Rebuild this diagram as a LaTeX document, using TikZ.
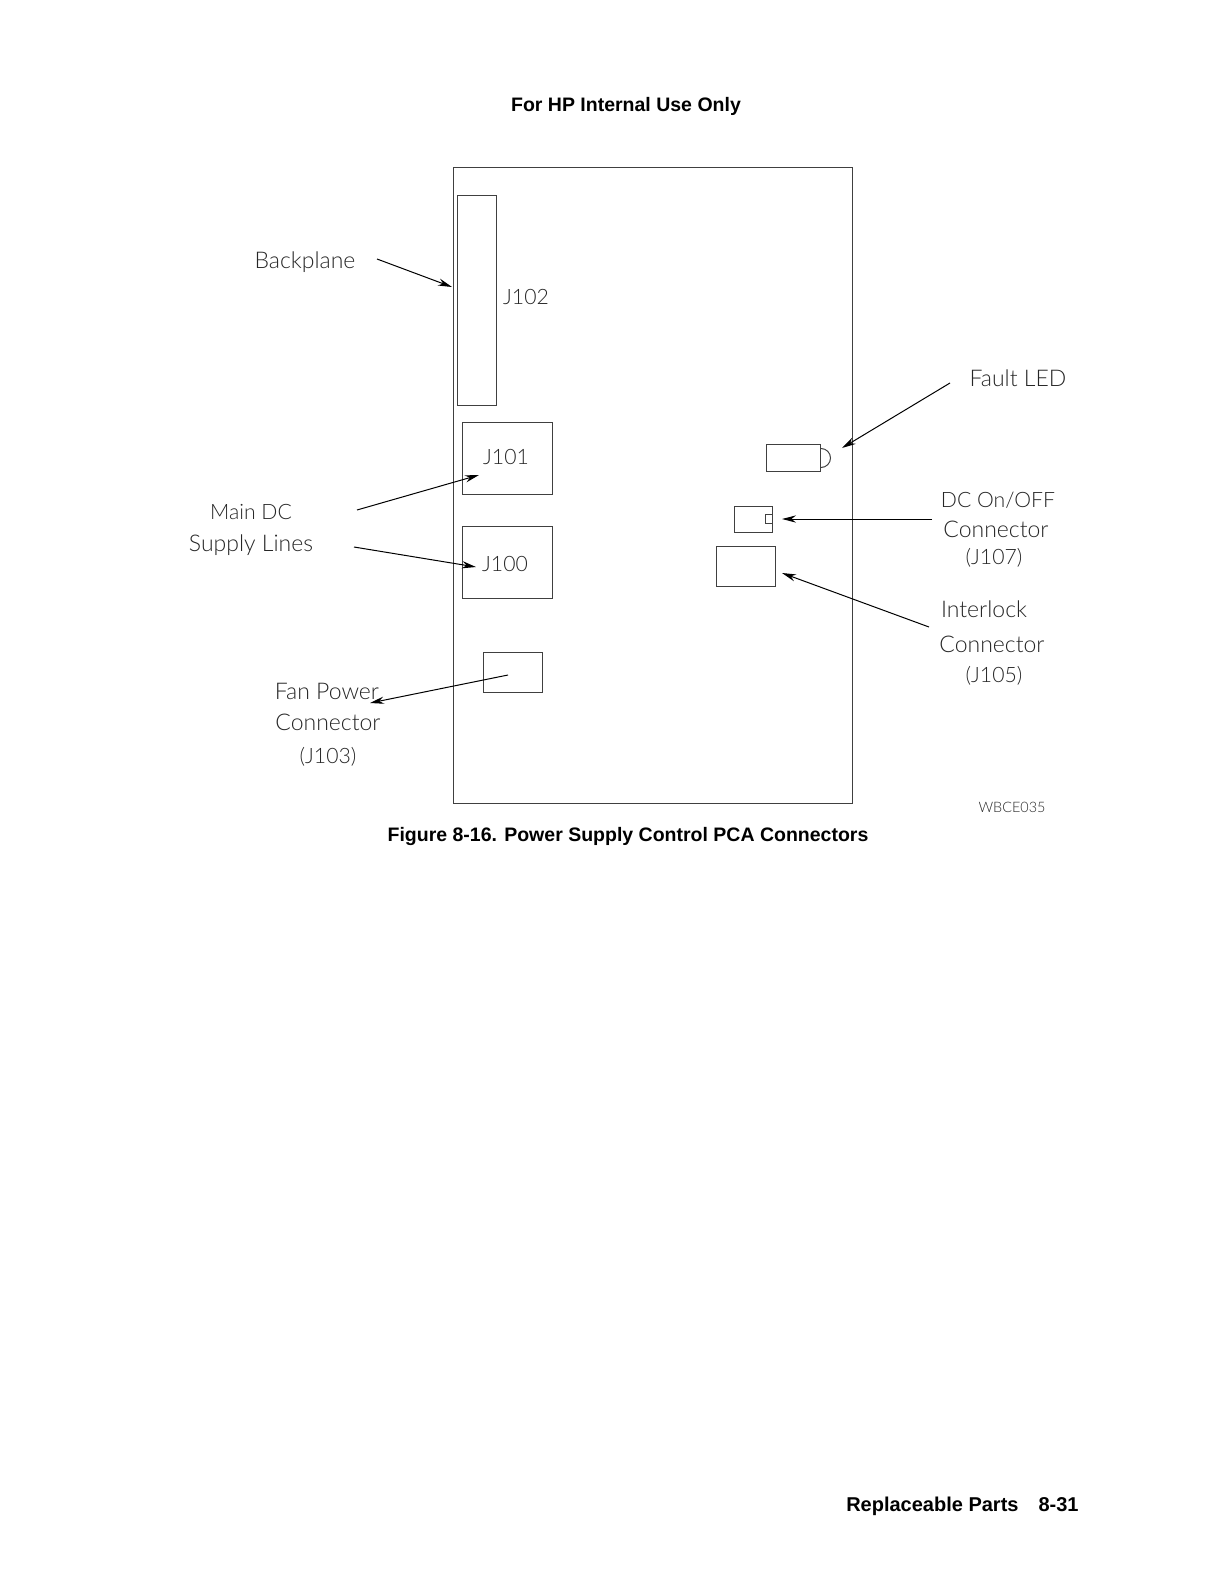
\documentclass[tikz,border=0pt]{standalone}
\usepackage{fontspec}
\usetikzlibrary{arrows.meta}
\setmainfont{Liberation Sans}
\newfontfamily\plotfont{Lato Light}
\definecolor{inkline}{gray}{0.25}
\tikzset{
  board/.style={shape=rectangle,draw=inkline,line width=0.5bp,inner sep=0pt},
  plot/.style={font=\plotfont\fontsize{11.5bp}{13bp}\selectfont,text=black!85,inner sep=0pt},
  plotsmall/.style={plot,font=\plotfont\fontsize{10.6bp}{13bp}\selectfont},
  bold/.style={font=\bfseries\fontsize{9.75bp}{12bp}\selectfont,inner sep=0pt},
  lead/.style={draw=black,line width=0.5bp,-{Stealth[length=7bp,width=3.6bp]}},
}
\begin{document}
\begin{tikzpicture}[x=0.5bp,y=-0.5bp]
\useasboundingbox (0,0) rectangle (1224,1584);

\node [bold] (hdr) at (626,106) {For HP Internal Use Only};
\node [bold] (cap) at (628,836.5) {Figure 8-16. Power Supply Control PCA Connectors};
\node [bold,anchor=east,font=\bfseries\fontsize{10bp}{12bp}\selectfont] (foot) at (1079,1506) {Replaceable Parts\hspace{1em}8-31};
\node [plot,font=\plotfont\fontsize{7.2bp}{10bp}\selectfont] (wbce) at (1012,807.5) {WBCE035};

\node [board,minimum width=199bp,minimum height=317.5bp]   (pca)  at (653,485.5) {};
\node [board,minimum width=19.5bp,minimum height=105bp]    (j102) at (476.5,300) {};
\node [board,minimum width=45bp,minimum height=36bp]       (j101) at (507,458) {};
\node [board,minimum width=45bp,minimum height=36bp]       (j100) at (507,562) {};
\node [board,minimum width=29.5bp,minimum height=20bp]     (j103) at (512.5,672) {};
\node [board,minimum width=27bp,minimum height=13.5bp]     (led)  at (793.5,458) {};
\node [board,minimum width=19bp,minimum height=13bp]       (j107) at (753,519) {};
\node [board,minimum width=3.5bp,minimum height=4.5bp,anchor=east] (pin) at (j107.east) {};
\node [board,minimum width=29.5bp,minimum height=20bp]     (j105) at (745.5,566) {};
\draw [draw=inkline,line width=0.5bp] ([yshift=4.75bp]led.east) arc [start angle=90,end angle=-90,radius=4.75bp];

\node [plotsmall] (t102) at (526,297) {J102};
\node [plotsmall] (t101) at (506,457) {J101};
\node [plotsmall] (t100) at (505,564) {J100};
\node [plot] (back) at (305,262) {Backplane};
\node [plotsmall] (main) at (251,512) {Main DC};
\node [plot] (supp) at (251,545) {Supply Lines};
\node [plot] (fan)  at (327,691) {Fan Power};
\node [plot] (fanc) at (328,722) {Connector};
\node [plotsmall] (fanj) at (328,757) {(J103)};
\node [plot] (flt)  at (1018,378) {Fault LED};
\node [plotsmall] (dc)   at (998,500) {DC On/OFF};
\node [plot] (dcc)  at (996,529) {Connector};
\node [plotsmall] (dcj)  at (994,558) {(J107)};
\node [plot] (intl) at (984,609) {Interlock};
\node [plot] (intc) at (992,644) {Connector};
\node [plotsmall] (intj) at (994,676) {(J105)};

\coordinate (a1) at (377,259);  \coordinate (b1) at (452,287);
\coordinate (a2) at (357,510);  \coordinate (b2) at (479,475);
\coordinate (a3) at (354,547);  \coordinate (b3) at (476,567);
\coordinate (a4) at (508,675);  \coordinate (b4) at (370,703);
\coordinate (a5) at (950,383);  \coordinate (b5) at (842,448);
\coordinate (a6) at (932,519);  \coordinate (b6) at (782,519);
\coordinate (a7) at (929,627);  \coordinate (b7) at (782,573);

\foreach \n in {1,...,7} {
  \draw [lead] (a\n) -- (b\n) ;
}
\end{tikzpicture}
\end{document}
